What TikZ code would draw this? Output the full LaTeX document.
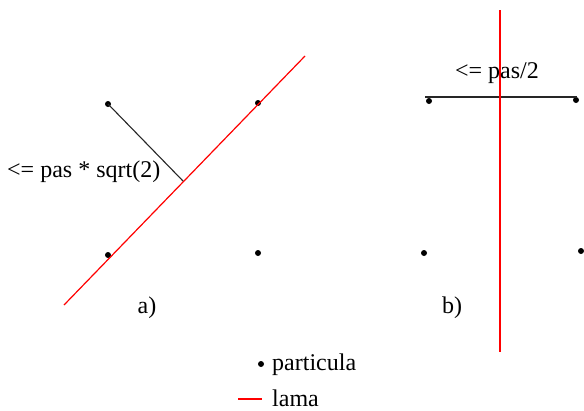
\documentclass[tikz,border=0pt]{standalone}
\usepackage{fontspec}
\newfontfamily\tms{Liberation Serif}
\begin{document}
\begin{tikzpicture}[x=1pt,y=-1pt,
  dot/.style={circle,fill=black,inner sep=0pt,minimum size=6pt},
  lama/.style={draw=red,line width=1.2pt},
  seg/.style={draw=black!85,line width=1.1pt},
  lbl/.style={inner sep=0pt,font=\tms\fontsize{24}{27}\selectfont}]
\useasboundingbox (0,0) rectangle (584,410);
% part a
\node[dot] (a1) at (108,104) {};
\node[dot] (a2) at (258,103) {};
\node[dot] (a3) at (108,255) {};
\node[dot] (a4) at (258,253) {};
\coordinate (ra) at (64,305);
\coordinate (rb) at (305,56);
\coordinate (fa) at (183,181);
\draw[lama] (ra) -- (rb);
\draw[seg] (a1.center) -- (fa);
\node[lbl,anchor=west] (la) at (7,172) {<= pas * sqrt(2)};
\node[lbl] (ta) at (147,308) {a)};
% part b
\node[dot] (b1) at (429,101) {};
\node[dot] (b2) at (576,100) {};
\node[dot] (b3) at (424,253) {};
\node[dot] (b4) at (581,251) {};
\coordinate (h1) at (425,97);
\coordinate (h2) at (577,97);
\draw[seg] (h1) -- (h2);
\coordinate (v1) at (500,10);
\coordinate (v2) at (500,352);
\draw[lama] (v1) -- (v2);
\node[lbl] (lb) at (497,73) {<= pas/2};
\node[lbl] (tb) at (452,308) {b)};
% legend
\node[dot] (ld) at (261,364) {};
\node[lbl,anchor=west] (lt1) at (272,365) {particula};
\coordinate (l1) at (238,399);
\coordinate (l2) at (262,399);
\draw[lama,line width=1.6pt] (l1) -- (l2);
\node[lbl,anchor=west] (lt2) at (272,398) {lama};
\end{tikzpicture}
\end{document}
